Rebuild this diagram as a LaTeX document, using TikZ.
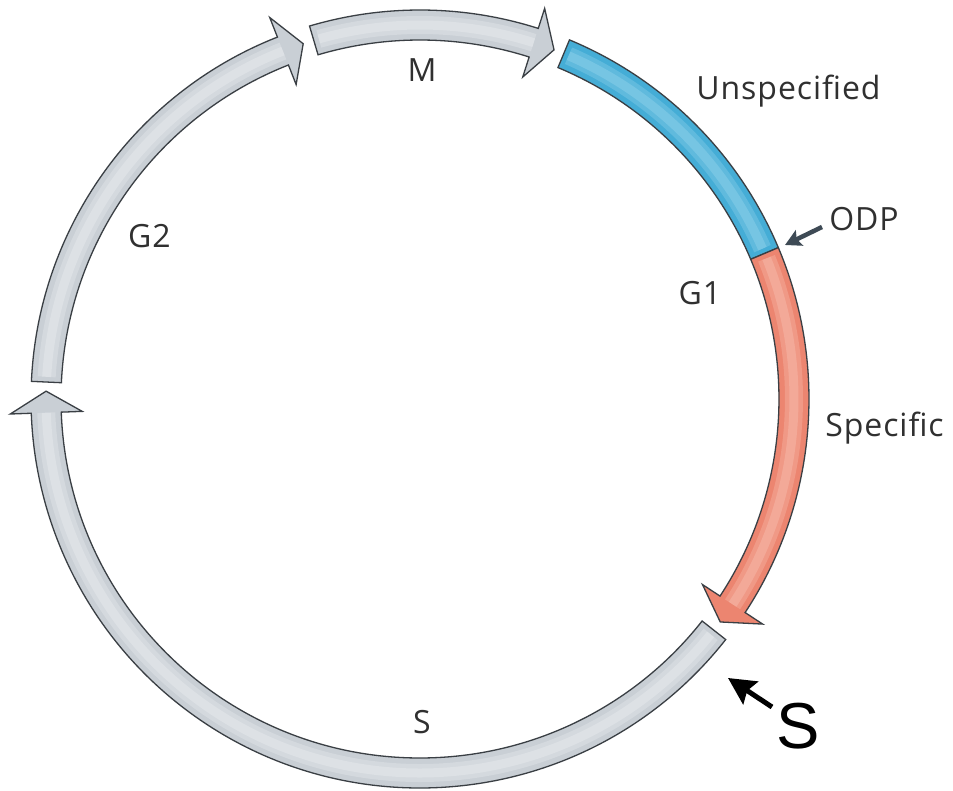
\documentclass[tikz,border=0pt]{standalone}
\usepackage{fontspec}
\usetikzlibrary{arrows.meta}
\newfontfamily\labfont[LetterSpace=3]{Open Sans}
\newfontfamily\bigfont{Liberation Sans}
\definecolor{outl}{HTML}{3A3F44}
\definecolor{grayfill}{HTML}{C9CFD5}
\definecolor{grayhi}{HTML}{EEF1F3}
\definecolor{bluefill}{HTML}{45ADD6}
\definecolor{bluehi}{HTML}{A0DAF0}
\definecolor{redfill}{HTML}{EC8570}
\definecolor{redhi}{HTML}{FAC8BB}
\definecolor{labtext}{HTML}{303030}
\definecolor{odpcol}{HTML}{3E4A55}
% band with arrow head: #1 start angle, #2 tip angle, #3 fill, #4 highlight
\newcommand\cyclearrow[4]{%
  \pgfmathsetmacro\hb{#2+3.3}%
  \pgfmathsetmacro\hs{#1-0.8}%
  \path[fill=#3] (#1:389) arc[start angle=#1, end angle=\hb, radius=389]
    -- (\hb:410) -- (#2:374) -- (\hb:338) -- (\hb:359)
    arc[start angle=\hb, end angle=#1, radius=359] -- cycle;
  \draw[#4, line width=18pt, opacity=0.3] (\hs:374) arc[start angle=\hs, end angle=\hb, radius=374];
  \draw[#4, line width=9pt, opacity=0.35] (\hs:374) arc[start angle=\hs, end angle=\hb, radius=374];
  \draw[bandline] (#1:389) arc[start angle=#1, end angle=\hb, radius=389]
    -- (\hb:410) -- (#2:374) -- (\hb:338) -- (\hb:359)
    arc[start angle=\hb, end angle=#1, radius=359] -- cycle;
}
% plain band: #1 start, #2 end, #3 fill, #4 highlight
\newcommand\cycleband[4]{%
  \pgfmathsetmacro\hs{#1-0.8}%
  \pgfmathsetmacro\he{#2+0.8}%
  \path[fill=#3] (#1:389) arc[start angle=#1, end angle=#2, radius=389]
    -- (#2:359) arc[start angle=#2, end angle=#1, radius=359] -- cycle;
  \draw[#4, line width=18pt, opacity=0.3] (\hs:374) arc[start angle=\hs, end angle=\he, radius=374];
  \draw[#4, line width=9pt, opacity=0.35] (\hs:374) arc[start angle=\hs, end angle=\he, radius=374];
  \draw[bandline] (#1:389) arc[start angle=#1, end angle=#2, radius=389]
    -- (#2:359) arc[start angle=#2, end angle=#1, radius=359] -- cycle;
}
\begin{document}
\begin{tikzpicture}[x=1pt, y=1pt,
  bandline/.style={draw=outl, line width=1.3pt, line join=miter},
  lab/.style={anchor=base, inner sep=0pt, text=labtext, font=\labfont\fontsize{32}{36}\selectfont},
  biglab/.style={anchor=base, inner sep=0pt, text=black, font=\bigfont\fontsize{65}{70}\selectfont}]
\useasboundingbox (0,0) rectangle (953,790);
\fill[white] (0,0) rectangle (953,790);
\begin{scope}[shift={(420,391)}]
  \cyclearrow{-38.2}{-181.2}{grayfill}{grayhi}
  \cyclearrow{177.4}{108.2}{grayfill}{grayhi}
  \cyclearrow{106.5}{69}{grayfill}{grayhi}
  \cycleband{67.4}{22.9}{bluefill}{bluehi}
  \cyclearrow{22.9}{-36.6}{redfill}{redhi}
\end{scope}
\node[lab] (m) at (422,708) {M};
\node[lab] (unspec) at (788.5,690) {Unspecified};
\node[lab] (odp) at (864,559) {ODP};
\node[lab] (g1) at (700,485) {G1};
\node[lab] (spec) at (884.5,353) {Specific};
\node[lab] (g2) at (149.5,542) {G2};
\node[lab] (s) at (422,57) {S};
\node[biglab] (bigs) at (798.5,42) {S};
\coordinate (odptail) at (822,563);
\coordinate (odptip) at (785,545);
\draw[odpcol, line width=4.5pt, -{Stealth[length=16pt, width=17pt, inset=3pt]}] (odptail) -- (odptip);
\coordinate (stail) at (772,83);
\coordinate (stip) at (728,112);
\draw[black, line width=5pt, -{Stealth[length=27pt, width=27pt, inset=4pt]}] (stail) -- (stip);
\end{tikzpicture}
\end{document}
